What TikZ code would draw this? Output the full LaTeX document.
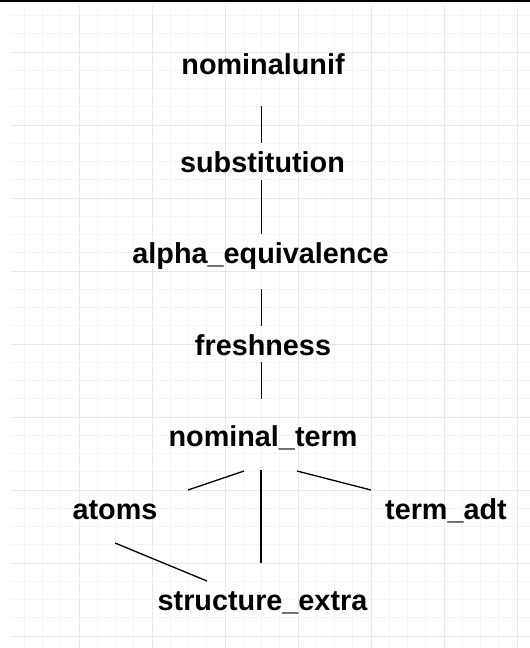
\documentclass[tikz,border=0pt]{standalone}
\usepackage{fontspec}
\setmainfont{Liberation Sans}
\usetikzlibrary{calc}
\begin{document}
\begin{tikzpicture}[x=1pt,y=-1pt,
  lbl/.style={font=\fontsize{28.8}{30}\selectfont\bfseries, anchor=base, inner sep=0pt},
  conn/.style={draw=black, line width=1.3pt},
  minorgrid/.style={draw=black!4, line width=1pt},
  majorgrid/.style={draw=black!9, line width=1pt}]
\useasboundingbox (0,0) rectangle (530,648);
\fill[white] (0,0) rectangle (530,648);
\begin{scope}
  \clip (11,6) rectangle (530,648);
  \foreach \i in {1,...,29} {
    \pgfmathsetmacro\xx{6+18.25*\i}
    \draw[minorgrid] (\xx,0) -- (\xx,648);
  }
  \foreach \i in {1,...,36} {
    \pgfmathsetmacro\yy{-21+18.25*\i}
    \draw[minorgrid] (0,\yy) -- (530,\yy);
  }
  \foreach \i in {1,...,7} {
    \pgfmathsetmacro\xx{6+73*\i}
    \draw[majorgrid] (\xx,0) -- (\xx,648);
  }
  \foreach \i in {1,...,9} {
    \pgfmathsetmacro\yy{-21+73*\i}
    \draw[majorgrid] (0,\yy) -- (530,\yy);
  }
\end{scope}
\draw[line width=2pt] (0,1) -- (530,1);

\node[lbl] (nu) at (263,74) {nominalunif};
\node[lbl] (sub) at (262.5,172) {substitution};
\node[lbl] (alpha) at (260.5,263) {alpha\_equivalence};
\node[lbl] (fresh) at (263,355) {freshness};
\node[lbl] (nt) at (263,446) {nominal\_term};
\node[lbl] (atoms) at (115,519) {atoms};
\node[lbl] (adt) at (446,519) {term\_adt};
\node[lbl] (se) at (262.5,610) {structure\_extra};

\draw[conn] ($(nu.base)+(-1.7,32)$) -- ($(sub.base)+(-1.2,-29)$);
\draw[conn] ($(sub.base)+(-1.2,8)$) -- ($(alpha.base)+(0.8,-29)$);
\draw[conn] ($(alpha.base)+(0.8,26)$) -- ($(fresh.base)+(-1.7,-29)$);
\draw[conn] ($(fresh.base)+(-1.7,7)$) -- ($(nt.base)+(-1.7,-47)$);
\draw[conn] ($(nt.base)+(-2,24)$) -- ($(se.base)+(-1.5,-47)$);
\draw[conn] ($(nt.base)+(-19,25)$) -- ($(atoms.base)+(73,-29)$);
\draw[conn] ($(nt.base)+(34,25)$) -- ($(adt.base)+(-75,-29)$);
\draw[conn] ($(atoms.base)+(0,24)$) -- ($(se.base)+(-55.5,-29)$);
\end{tikzpicture}
\end{document}
